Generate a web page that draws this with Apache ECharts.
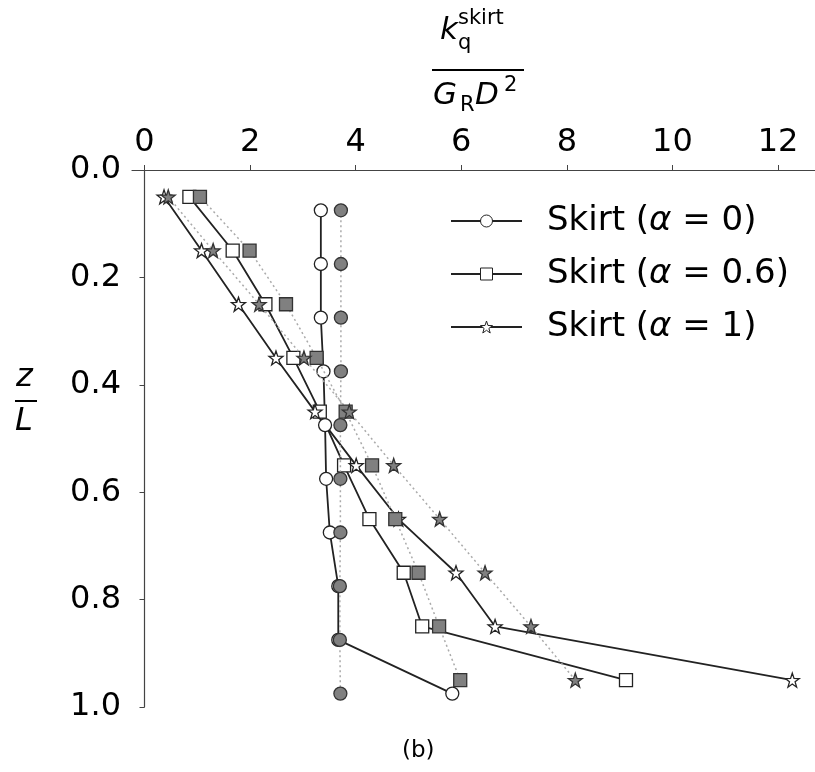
<!DOCTYPE html>
<html>
<head>
<meta charset="utf-8">
<script src="https://cdn.jsdelivr.net/npm/echarts@6/dist/echarts.min.js"></script>
<style>
  html, body { margin: 0; padding: 0; background: #fff; }
  #chart { width: 815px; height: 772px; }
</style>
</head>
<body>
<div id="chart"></div>
<script>
// tick labels
var xTicks = [0, 2, 4, 6, 8, 10, 12];
var yTicks = [0, 0.2, 0.4, 0.6, 0.8, 1.0];

// depths z/L
var circleDepth = [0.075, 0.175, 0.275, 0.375, 0.475, 0.575, 0.675, 0.775, 0.875, 0.975];
var otherDepth = [0.05, 0.15, 0.25, 0.35, 0.45, 0.55, 0.65, 0.75, 0.85, 0.95];

// stiffness values (open = solid line, filled = dotted line)
var circleOpen = [3.34, 3.34, 3.34, 3.39, 3.42, 3.44, 3.51, 3.67, 3.67, 5.83];
var circleFilled = [3.72, 3.72, 3.72, 3.72, 3.71, 3.71, 3.71, 3.70, 3.70, 3.71];
var squareOpen = [0.85, 1.67, 2.29, 2.82, 3.32, 3.78, 4.26, 4.91, 5.26, 9.12];
var squareFilled = [1.05, 1.99, 2.68, 3.26, 3.81, 4.31, 4.75, 5.19, 5.58, 5.98];
var starOpen = [0.37, 1.08, 1.78, 2.49, 3.23, 4.01, 4.81, 5.90, 6.64, 12.27];
var starFilled = [0.45, 1.30, 2.17, 3.02, 3.88, 4.72, 5.59, 6.45, 7.32, 8.16];

var names = ['Skirt (α = 0)', 'Skirt (α = 0.6)', 'Skirt (α = 1)'];

function pairs(xs, ys) {
    return xs.map(function (x, i) { return [x, ys[i]]; });
}

// five point star marker
function starPath() {
    var pts = [];
    for (var i = 0; i < 10; i++) {
        var r = i % 2 === 0 ? 1 : 0.4;
        var a = -Math.PI / 2 + i * Math.PI / 5;
        pts.push((r * Math.cos(a)).toFixed(3) + ' ' + (r * Math.sin(a)).toFixed(3));
    }
    return 'path://M' + pts.join(' L') + ' Z';
}
var star = starPath();

var font = 'DejaVu Sans';
var dark = '#222';
var grey = '#808080';

function openSeries(name, symbol, size, xs, ys) {
    return {
        name: name, type: 'line', data: pairs(xs, ys),
        symbol: symbol, symbolSize: size, showAllSymbol: true,
        lineStyle: { color: dark, width: 1.8 },
        itemStyle: { color: '#fff', borderColor: dark, borderWidth: 1.3 },
        z: 3
    };
}
function filledSeries(symbol, size, xs, ys) {
    return {
        name: 'filled-' + symbol, type: 'line', data: pairs(xs, ys),
        symbol: symbol, symbolSize: size, showAllSymbol: true,
        lineStyle: { color: '#aaa', width: 1.5, type: [2, 3] },
        itemStyle: { color: grey, borderColor: '#333', borderWidth: 1.3 },
        z: 4
    };
}

var chart = echarts.init(document.getElementById('chart'));

var option = {
    animation: false,
    grid: { left: 132, top: 170, right: 0, bottom: 65 },
    xAxis: {
        type: 'value', position: 'top', min: -0.237, max: 12.7,
        axisLine: { show: true, lineStyle: { color: '#444', width: 1.2 } },
        axisTick: { show: true, length: 5, customValues: xTicks, lineStyle: { color: '#444' } },
        axisLabel: { customValues: xTicks, fontFamily: font, fontSize: 32, color: '#000', margin: 11 },
        splitLine: { show: false }
    },
    yAxis: {
        type: 'value', inverse: true, min: 0, max: 1, interval: 0.2,
        axisLine: { show: true, lineStyle: { color: '#444', width: 1.2 } },
        axisTick: { show: true, length: 5, lineStyle: { color: '#444' } },
        axisLabel: {
            fontFamily: font, fontSize: 32, color: '#000', margin: 11,
            formatter: function (v) { return v.toFixed(1); }
        },
        splitLine: { show: false }
    },
    legend: {
        data: names, orient: 'vertical', left: 445, top: 199,
        itemWidth: 71, itemHeight: 15, itemGap: 19,
        itemStyle: { borderWidth: 1 },
        textStyle: {
            fontFamily: font, fontSize: 34, lineHeight: 34, color: '#000',
            padding: [0, 0, 0, 20],
            rich: { i: { fontFamily: font, fontSize: 34, lineHeight: 34, fontStyle: 'italic' } }
        },
        formatter: function (n) { return n.replace('α', '{i|α}'); }
    },
    graphic: [
        // top axis title: k_q^skirt / (G_R D^2)
        { type: 'text', left: 440, top: 15, style: { text: 'k', font: 'italic 31px "DejaVu Sans"', fill: '#000' } },
        { type: 'text', left: 458, top: 8, style: { text: 'skirt', font: '21px "DejaVu Sans"', fill: '#000' } },
        { type: 'text', left: 458, top: 33, style: { text: 'q', font: '21px "DejaVu Sans"', fill: '#000' } },
        { type: 'line', shape: { x1: 432, y1: 70, x2: 524, y2: 70 }, style: { stroke: '#000', lineWidth: 2 } },
        { type: 'text', left: 433, top: 80, style: { text: 'G', font: 'italic 31px "DejaVu Sans"', fill: '#000' } },
        { type: 'text', left: 460, top: 95, style: { text: 'R', font: '21px "DejaVu Sans"', fill: '#000' } },
        { type: 'text', left: 475, top: 80, style: { text: 'D', font: 'italic 31px "DejaVu Sans"', fill: '#000' } },
        { type: 'text', left: 504, top: 75, style: { text: '2', font: '21px "DejaVu Sans"', fill: '#000' } },
        // left axis title: z / L
        { type: 'text', left: 16, top: 362, style: { text: 'z', font: 'italic 32px "DejaVu Sans"', fill: '#000' } },
        { type: 'line', shape: { x1: 15, y1: 401, x2: 37, y2: 401 }, style: { stroke: '#000', lineWidth: 2 } },
        { type: 'text', left: 15, top: 406, style: { text: 'L', font: 'italic 32px "DejaVu Sans"', fill: '#000' } },
        // panel label
        { type: 'text', left: 402, top: 740, style: { text: '(b)', font: '23px "DejaVu Sans"', fill: '#000' } }
    ],
    series: [
        openSeries(names[0], 'circle', 13, circleOpen, circleDepth),
        filledSeries('circle', 13, circleFilled, circleDepth),
        openSeries(names[1], 'rect', 13, squareOpen, otherDepth),
        filledSeries('rect', 13, squareFilled, otherDepth),
        openSeries(names[2], star, 14, starOpen, otherDepth),
        filledSeries(star, 14, starFilled, otherDepth)
    ]
};

chart.setOption(option);
</script>
</body>
</html>
